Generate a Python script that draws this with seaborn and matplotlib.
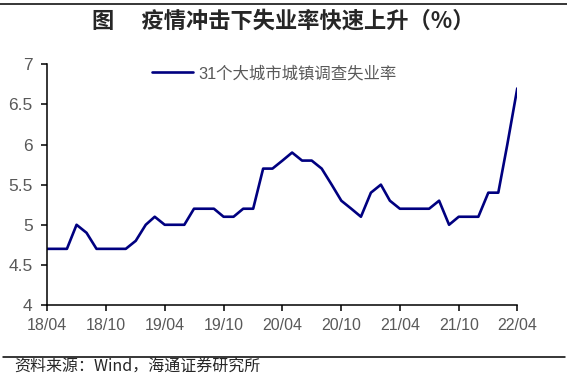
#!/usr/bin/env python3
# -*- coding: utf-8 -*-

import pandas as pd
import matplotlib as mpl
mpl.use('Agg')
import matplotlib.pyplot as plt
import matplotlib.dates as mdates
from matplotlib.lines import Line2D
import seaborn as sns

# 31 big cities urban surveyed unemployment rate, monthly 2018/04 - 2022/04
months = pd.date_range('2018-04-01', periods=49, freq='MS')
rate = [4.7, 4.7, 4.7, 5.0, 4.9, 4.7, 4.7, 4.7, 4.7, 4.8, 5.0, 5.1,
        5.0, 5.0, 5.0, 5.2, 5.2, 5.2, 5.1, 5.1, 5.2, 5.2, 5.7, 5.7,
        5.8, 5.9, 5.8, 5.8, 5.7, 5.5, 5.3, 5.2, 5.1, 5.4, 5.5, 5.3,
        5.2, 5.2, 5.2, 5.2, 5.3, 5.0, 5.1, 5.1, 5.1, 5.4, 5.4, 6.0,
        6.7]
series_name = '31个大城市城镇调查失业率'
yticks = [4, 4.5, 5, 5.5, 6, 6.5, 7]
ytick_labels = ['4', '4.5', '5', '5.5', '6', '6.5', '7']

title = '图\u3000 疫情冲击下失业率快速上升（%）'
source = '资料来源：Wind，海通证券研究所'

sns.set_style('ticks')
plt.rcParams['font.family'] = ['Liberation Sans', 'Noto Sans CJK SC']
plt.rcParams['axes.unicode_minus'] = False

grey = '#595959'
navy = '#000080'

df = pd.DataFrame({'month': months, 'rate': rate})

fig = plt.figure(figsize=(5.67, 3.76), dpi=100)
ax = fig.add_axes([0.0834, 0.1888, 0.8289, 0.6402])

sns.lineplot(data=df, x='month', y='rate', ax=ax, color=navy, lw=1.9,
             label=series_name, solid_joinstyle='round')

ax.set_xlim(months[0], months[-1])
ax.set_ylim(4, 7)
ax.set_yticks(yticks)
ax.set_yticklabels(ytick_labels)
ax.set_xticks(months[::6])
ax.xaxis.set_major_formatter(mdates.DateFormatter('%y/%m'))
ax.set_xlabel('')
ax.set_ylabel('')

for side in ['top', 'right']:
	ax.spines[side].set_visible(False)
for side in ['left', 'bottom']:
	ax.spines[side].set_color('black')
	ax.spines[side].set_linewidth(1.1)
ax.tick_params(axis='both', colors='black', labelcolor=grey,
               length=4, width=1.1, direction='out')
ax.tick_params(axis='x', labelsize=11.5, pad=5)
ax.tick_params(axis='y', labelsize=12.5, pad=6.5)

leg = ax.legend(loc='center left', bbox_to_anchor=(152 / 567, 1 - 73.3 / 376),
                bbox_transform=fig.transFigure, frameon=False, fontsize=11.8,
                handlelength=2.5, handletextpad=0.3, borderpad=0, borderaxespad=0)
for t in leg.get_texts():
	t.set_color(grey)

# title and source with rules
fig.text(0.5, 1 - 21.5 / 376, title, ha='center', va='center', fontsize=16,
         fontweight='bold', family=['Noto Sans CJK SC', 'DejaVu Sans'])
fig.add_artist(Line2D([0, 1], [1 - 3.6 / 376, 1 - 3.6 / 376], color='black', lw=1.1))
fig.add_artist(Line2D([3 / 567, 565 / 567], [1 - 356.5 / 376, 1 - 356.5 / 376],
                      color='black', lw=1.1))
fig.text(14 / 567, 1 - 367 / 376, source, ha='left', va='center', fontsize=11.5,
         family=['Noto Sans CJK SC', 'Liberation Sans'])

fig.savefig('out.png', dpi=100)
